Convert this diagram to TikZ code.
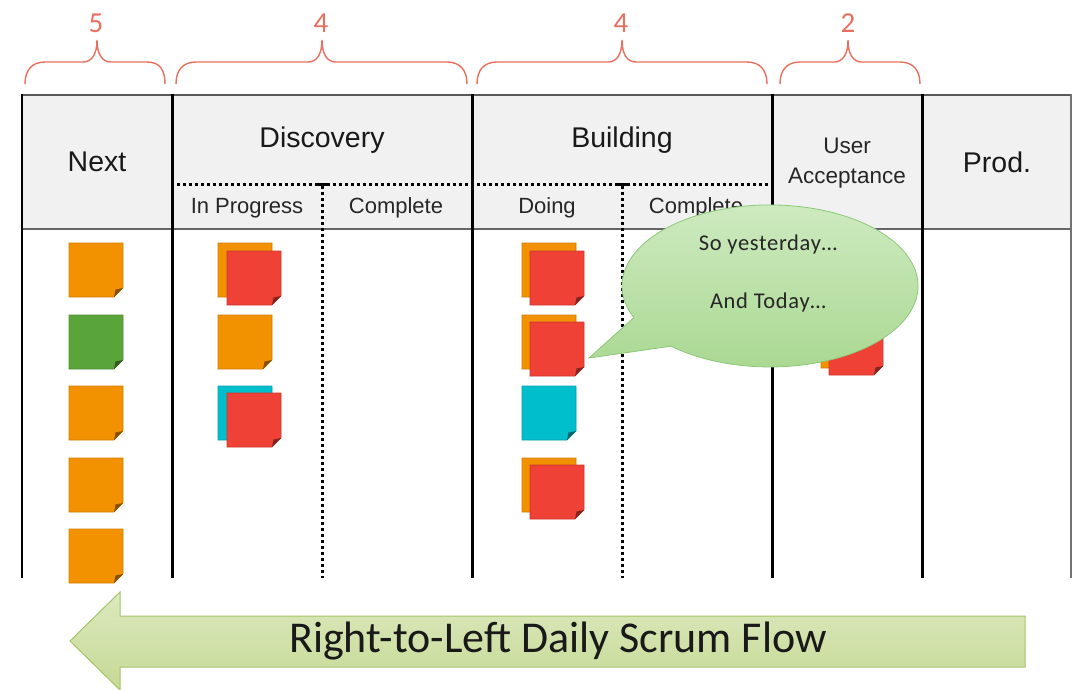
\documentclass[tikz,border=0pt]{standalone}
\usepackage{fontspec}
\setmainfont{Carlito}
\newfontfamily\hdr{Liberation Sans}
\definecolor{braceRed}{HTML}{E9705F}
\definecolor{hdrGray}{HTML}{F1F1F1}
\definecolor{noteOrange}{HTML}{F39200}
\definecolor{noteRed}{HTML}{EF4136}
\definecolor{noteGreen}{HTML}{5AA53A}
\definecolor{noteCyan}{HTML}{00BECB}
\definecolor{bubTop}{HTML}{D0EBC3}
\definecolor{bubBot}{HTML}{A9D891}
\definecolor{bubLine}{HTML}{8CC878}
\definecolor{arrTop}{HTML}{DCE9BE}
\definecolor{arrBot}{HTML}{C6D995}
\definecolor{arrLine}{HTML}{A6C46A}
\begin{document}
\begin{tikzpicture}[x=1pt,y=-1pt,
  brc/.style={draw=braceRed, line width=1.4pt},
  brlabel/.style={text=braceRed, font=\fontsize{29}{32}\selectfont, inner sep=0pt},
  hd/.style={font=\hdr\fontsize{28.5}{32}\selectfont, text=black!90, inner sep=0pt},
  sub/.style={font=\hdr\fontsize{22}{26}\selectfont, text=black!85, inner sep=0pt},
  thick line/.style={line width=3pt, black},
  dotline/.style={line width=3pt, black, dash pattern=on 3pt off 3pt},
  pics/note/.style={code={
    \filldraw[fill=#1, draw=#1!85!black, line width=0.6pt]
      (0,0) -- (54,0) -- (54,45) -- (45,54) -- (0,54) -- cycle;
    \fill[#1!55!black] (54,45) -- (45,54) -- (46.5,46.5) -- cycle;
  }},
  bubtxt/.style={font=\fontsize{22.5}{26}\selectfont\addfontfeatures{LetterSpace=3}, text=black!85, inner sep=0pt}
]
\useasboundingbox (0,0) rectangle (1074,689);

% braces
\draw[brc] (25,84) .. controls (25,70) and (32,62) .. (45,62) -- (83,62)
  .. controls (92,62) and (97,54) .. (97,40) .. controls (97,54) and (102,62) .. (111,62)
  -- (147,62) .. controls (160,62) and (165,70) .. (165,84);
\draw[brc] (176,84) .. controls (176,70) and (183,62) .. (196,62) -- (308,62)
  .. controls (317,62) and (322,54) .. (322,40) .. controls (322,54) and (327,62) .. (336,62)
  -- (447,62) .. controls (460,62) and (467,70) .. (467,84);
\draw[brc] (477,84) .. controls (477,70) and (484,62) .. (497,62) -- (608,62)
  .. controls (617,62) and (622,54) .. (622,40) .. controls (622,54) and (627,62) .. (636,62)
  -- (747,62) .. controls (760,62) and (767,70) .. (767,84);
\draw[brc] (780,84) .. controls (780,70) and (787,62) .. (800,62) -- (834,62)
  .. controls (843,62) and (848,54) .. (848,40) .. controls (848,54) and (853,62) .. (862,62)
  -- (900,62) .. controls (913,62) and (920,70) .. (920,84);
\node[brlabel] (b5) at (96,23) {5};
\node[brlabel] (b4a) at (321,23) {4};
\node[brlabel] (b4b) at (621,23) {4};
\node[brlabel] (b2) at (848,23) {2};

% header
\fill[hdrGray] (22,95) rectangle (1071,229);
\draw[line width=2pt, black!65] (22,95) -- (1071,95);
\draw[line width=2.6pt, black!60] (22,229) -- (1071,229);
\draw[dotline] (177,184) -- (768,184);
\draw[line width=3pt] (317,184) -- (327,184);
\draw[line width=3pt] (617,184) -- (627,184);
\draw[dotline] (322,186) -- (322,578);
\draw[dotline] (622,186) -- (622,578);
\draw[line width=2pt, black] (22,94) -- (22,578);
\draw[thick line] (172,94) -- (172,578);
\draw[thick line] (472,94) -- (472,578);
\draw[thick line] (772,94) -- (772,578);
\draw[thick line] (922,94) -- (922,578);
\draw[line width=1.5pt, black!55] (1071,94) -- (1071,578);

\node[hd] (next) at (97,162) {Next};
\node[hd] (disc) at (322,140) {Discovery};
\node[hd] (build) at (622,140) {Building};
\node[hd] (prod) at (997,162) {Prod.};
\node[sub] (inprog) at (247,208) {In Progress};
\node[sub] (dcomp) at (396,208) {Complete};
\node[sub] (doing) at (547,208) {Doing};
\node[sub] (bcomp) at (696,208) {Complete};
\node[sub, align=center, font=\hdr\fontsize{22.5}{30}\selectfont] (ua) at (847,163) {User\\Acceptance};

% notes: Next
\pic (n1) at (69,243) {note=noteOrange};
\pic (n2) at (69,315) {note=noteGreen};
\pic (n3) at (69,386) {note=noteOrange};
\pic (n4) at (69,458) {note=noteOrange};
\pic (n5) at (69,529) {note=noteOrange};
% Discovery in progress
\pic (d1a) at (218,243) {note=noteOrange};
\pic (d1b) at (227,251) {note=noteRed};
\pic (d2) at (218,315) {note=noteOrange};
\pic (d3a) at (218,386) {note=noteCyan};
\pic (d3b) at (227,393) {note=noteRed};
% Building doing
\pic (g1a) at (522,243) {note=noteOrange};
\pic (g1b) at (530,251) {note=noteRed};
\pic (g2a) at (522,315) {note=noteOrange};
\pic (g2b) at (530,322) {note=noteRed};
\pic (g3) at (522,386) {note=noteCyan};
\pic (g4a) at (522,458) {note=noteOrange};
\pic (g4b) at (530,465) {note=noteRed};
% User acceptance
\pic (u1a) at (821,314) {note=noteOrange};
\pic (u1b) at (829,321) {note=noteRed};

% speech bubble
\path[draw=bubLine, line width=0.8pt, top color=bubTop, bottom color=bubBot]
  (671,346.2) -- (589,358) -- (633.8,317.6)
  arc[start angle=157, end angle=492, x radius=148, y radius=81] -- cycle;
\node[bubtxt] (yest) at (768,244) {So yesterday…};
\node[bubtxt] (today) at (768,302) {And Today…};

% flow arrow
\path[draw=arrLine, line width=1pt, top color=arrTop, bottom color=arrBot]
  (1025,616) -- (120,616) -- (120,592) -- (70,641) -- (120,690) -- (120,667) -- (1025,667) -- cycle;
\node[font=\fontsize{44}{50}\selectfont, text=black!90, inner sep=0pt] (flow) at (558,641) {Right-to-Left Daily Scrum Flow};
\end{tikzpicture}
\end{document}
